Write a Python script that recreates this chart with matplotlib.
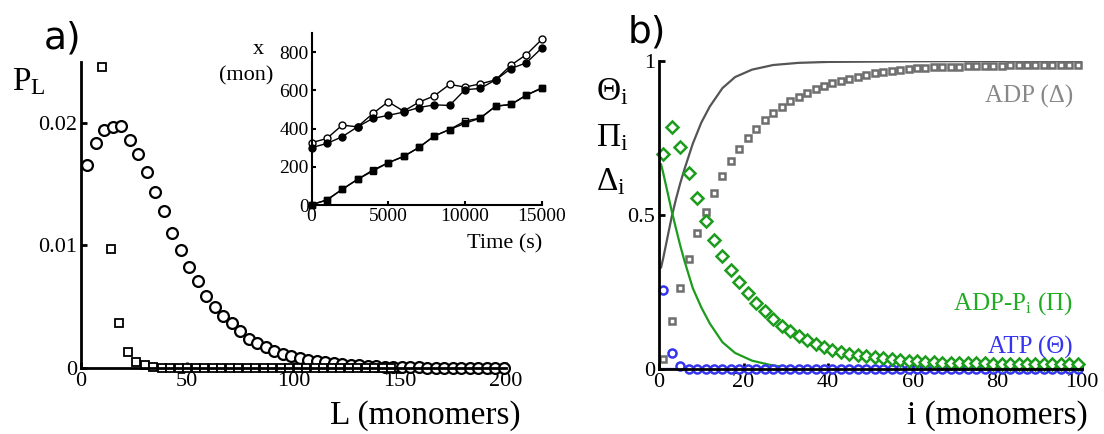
import matplotlib.pyplot as plt
import numpy as np

plt.rcParams['font.family'] = ['Liberation Serif', 'DejaVu Serif']
plt.rcParams['mathtext.fontset'] = 'custom'
plt.rcParams['mathtext.rm'] = 'Liberation Serif'
plt.rcParams['mathtext.it'] = 'Liberation Serif:italic'

# length distribution P_L
L_circ = np.arange(3, 200, 4)
P_circ = [0.01659, 0.01832, 0.01943, 0.01967, 0.0197, 0.01859, 0.01745, 0.0160, 0.01436, 0.01279,
          0.0110, 0.0096, 0.00824, 0.00707, 0.00591, 0.00499, 0.00428, 0.00363, 0.0030, 0.00238,
          0.0020, 0.00173, 0.00141, 0.00114, 0.00098, 0.00079, 0.00065, 0.00057, 0.00049, 0.0004,
          0.00033, 0.00027, 0.00022, 0.00018, 0.00015, 0.00012, 0.0001, 0.00008, 0.00006, 0.00005,
          0.00004, 0.00003, 0.00002, 0.00002, 0.00001, 0.00001, 0.0, 0.0, 0.0, 0.0]
L_sq = np.arange(10, 150, 4)
P_sq = [0.02455, 0.00973, 0.00363, 0.00133, 0.00051, 0.00022, 0.0001] + [0.0] * 28

# inset: tip position x (monomers) vs time
t_in = np.arange(0, 16000, 1000)
x_open_c = [326, 348, 418, 409, 479, 540, 491, 538, 571, 631, 617, 634, 655, 732, 787, 866]
x_fill_c = [300, 322, 357, 409, 453, 469, 486, 510, 524, 521, 603, 610, 655, 714, 744, 821]
x_open_s = [2, 26, 82, 134, 183, 221, 254, 301, 361, 395, 439, 455, 517, 526, 575, 613]
x_fill_s = [2, 26, 82, 134, 178, 221, 254, 301, 361, 395, 427, 455, 517, 526, 575, 610]

# nucleotide state profiles along the filament
i_pts = np.arange(1, 100, 2)
adp = [0.0325, 0.155, 0.263, 0.3575, 0.441, 0.511, 0.573, 0.627, 0.674, 0.714,
       0.749, 0.780, 0.807, 0.832, 0.8516, 0.869, 0.884, 0.897, 0.909, 0.919,
       0.928, 0.936, 0.943, 0.949, 0.955, 0.960, 0.964, 0.968, 0.971, 0.974,
       0.976, 0.978, 0.979, 0.980, 0.981, 0.982, 0.983, 0.984, 0.984, 0.985,
       0.985, 0.986, 0.986, 0.986, 0.987, 0.987, 0.987, 0.987, 0.988, 0.988]
adp_pi = [0.699, 0.785, 0.720, 0.636, 0.556, 0.482, 0.420, 0.367, 0.320, 0.283,
          0.247, 0.2145, 0.187, 0.1625, 0.141, 0.1246, 0.108, 0.094, 0.081, 0.070,
          0.061, 0.055, 0.050, 0.045, 0.041, 0.038, 0.035, 0.032, 0.029, 0.027,
          0.025, 0.023, 0.022, 0.021, 0.020, 0.019, 0.019, 0.018, 0.018, 0.017,
          0.017, 0.016, 0.016, 0.016, 0.015, 0.015, 0.015, 0.015, 0.015, 0.015]
atp = [0.258, 0.051, 0.011, 0.001] + [0.0] * 46

# mean-field curves
i_line = [0.5, 1, 2, 3, 4, 5, 6, 8, 10, 12, 15, 18, 22, 27, 33, 40, 50, 60, 80, 100]
adp_line = [0.33, 0.36, 0.427, 0.494, 0.551, 0.602, 0.648, 0.732, 0.800, 0.852, 0.912, 0.948,
            0.972, 0.987, 0.994, 0.997, 0.998, 0.999, 1.0, 1.0]
adp_pi_line = [0.664, 0.636, 0.575, 0.513, 0.457, 0.402, 0.352, 0.262, 0.20, 0.148, 0.087, 0.052,
               0.027, 0.011, 0.003, 0.001, 0.0, 0.0, 0.0, 0.0]
atp_line = [0.0] * len(i_line)

W, H = 1104, 434
fig = plt.figure(figsize=(W / 100, H / 100), dpi=100)


def box(x0, y0, x1, y1):
    return [x0 / W, 1 - y1 / H, (x1 - x0) / W, (y1 - y0) / H]


def ftext(x, y, s, **kw):
    fig.text(x / W, 1 - y / H, s, **kw)


def style(ax, lw=2.0, size=16):
    for s in ['top', 'right']:
        ax.spines[s].set_visible(False)
    for s in ['left', 'bottom']:
        ax.spines[s].set_linewidth(lw)
    ax.tick_params(direction='in', length=4, width=lw, labelsize=size, pad=3)


# a) main panel
ax1 = fig.add_axes(box(81, 61.5, 506, 368))
style(ax1)
ax1.plot(L_circ, P_circ, 'o', mfc='white', mec='black', ms=7.8, mew=1.6, clip_on=False)
ax1.plot(L_sq, P_sq, 's', mfc='white', mec='black', ms=5.5, mew=1.3, clip_on=False)
ax1.set_xlim(0, 200)
ax1.set_ylim(0, 0.025)
ax1.set_xticks([0, 50, 100, 150, 200])
ax1.set_yticks([0, 0.01, 0.02])
ax1.set_yticklabels(['0', '0.01', '0.02'])

ftext(44, 38, 'a)', family='DejaVu Sans', fontsize=27, va='center')
ftext(12, 82, r'$\mathrm{P}_\mathrm{L}$', fontsize=24, va='center')
ftext(521, 416, 'L (monomers)', fontsize=24, ha='right', va='center')

# inset
ax2 = fig.add_axes(box(311.5, 33, 541.7, 205))
style(ax2, lw=1.5, size=14)
ax2.tick_params(length=3, pad=2)
ax2.plot(t_in, x_open_c, '-o', color='black', mfc='white', ms=5, lw=1, mew=1, clip_on=False)
ax2.plot(t_in, x_fill_c, '-o', color='black', ms=5, lw=1, clip_on=False)
ax2.plot(t_in, x_open_s, '-s', color='black', mfc='white', ms=4.5, lw=1, mew=1, clip_on=False)
ax2.plot(t_in, x_fill_s, '-s', color='black', ms=4.5, lw=1, clip_on=False)
ax2.set_xlim(0, 15000)
ax2.set_ylim(0, 900)
ax2.set_xticks([0, 5000, 10000, 15000])
ax2.set_yticks([0, 200, 400, 600, 800])
ftext(258, 50, 'x', fontsize=16, ha='center', va='center')
ftext(246, 76, '(mon)', fontsize=16, ha='center', va='center')
ftext(542, 244, 'Time (s)', fontsize=16, ha='right', va='center')

# b) nucleotide profiles
c_grey = '#6e6e6e'
c_green = '#1c9c1c'
c_blue = '#3535f0'
ax3 = fig.add_axes(box(659, 61, 1082, 369))
style(ax3)
ax3.plot(i_line, adp_line, '-', color='#555555', lw=1.6)
ax3.plot(i_line, adp_pi_line, '-', color=c_green, lw=1.6)
ax3.plot(i_line, atp_line, '-', color=c_blue, lw=1.6)
ax3.plot(i_pts, adp, 's', mfc='white', mec=c_grey, ms=4.8, mew=1.8, clip_on=False)
ax3.plot(i_pts, atp, 'o', mfc='white', mec=c_blue, ms=5.8, mew=1.8, clip_on=False)
ax3.plot(i_pts, adp_pi, 'D', mfc='white', mec=c_green, ms=5.8, mew=1.8, clip_on=False)
ax3.set_xlim(0, 100)
ax3.set_ylim(0, 1)
ax3.set_xticks([0, 20, 40, 60, 80, 100])
ax3.set_yticks([0, 0.5, 1])
ax3.set_yticklabels(['0', '0.5', '1'])

ftext(628, 33, 'b)', family='DejaVu Sans', fontsize=27, va='center')
ftext(596, 92, r'$\Theta_\mathrm{i}$', fontsize=24, va='center')
ftext(596, 138, r'$\Pi_\mathrm{i}$', fontsize=24, va='center')
ftext(596, 182, r'$\Delta_\mathrm{i}$', fontsize=24, va='center')
ftext(1088, 416, 'i (monomers)', fontsize=24, ha='right', va='center')

ftext(1073, 96, 'ADP (Δ)', fontsize=18, color='#888888', ha='right', va='center')
ftext(1073, 304, r'ADP-P$_\mathrm{i}$ (Π)', fontsize=18, color='#22aa22', ha='right', va='center')
ftext(1073, 347, 'ATP (Θ)', fontsize=18, color=c_blue, ha='right', va='center')

fig.savefig('out.png', dpi=100)
